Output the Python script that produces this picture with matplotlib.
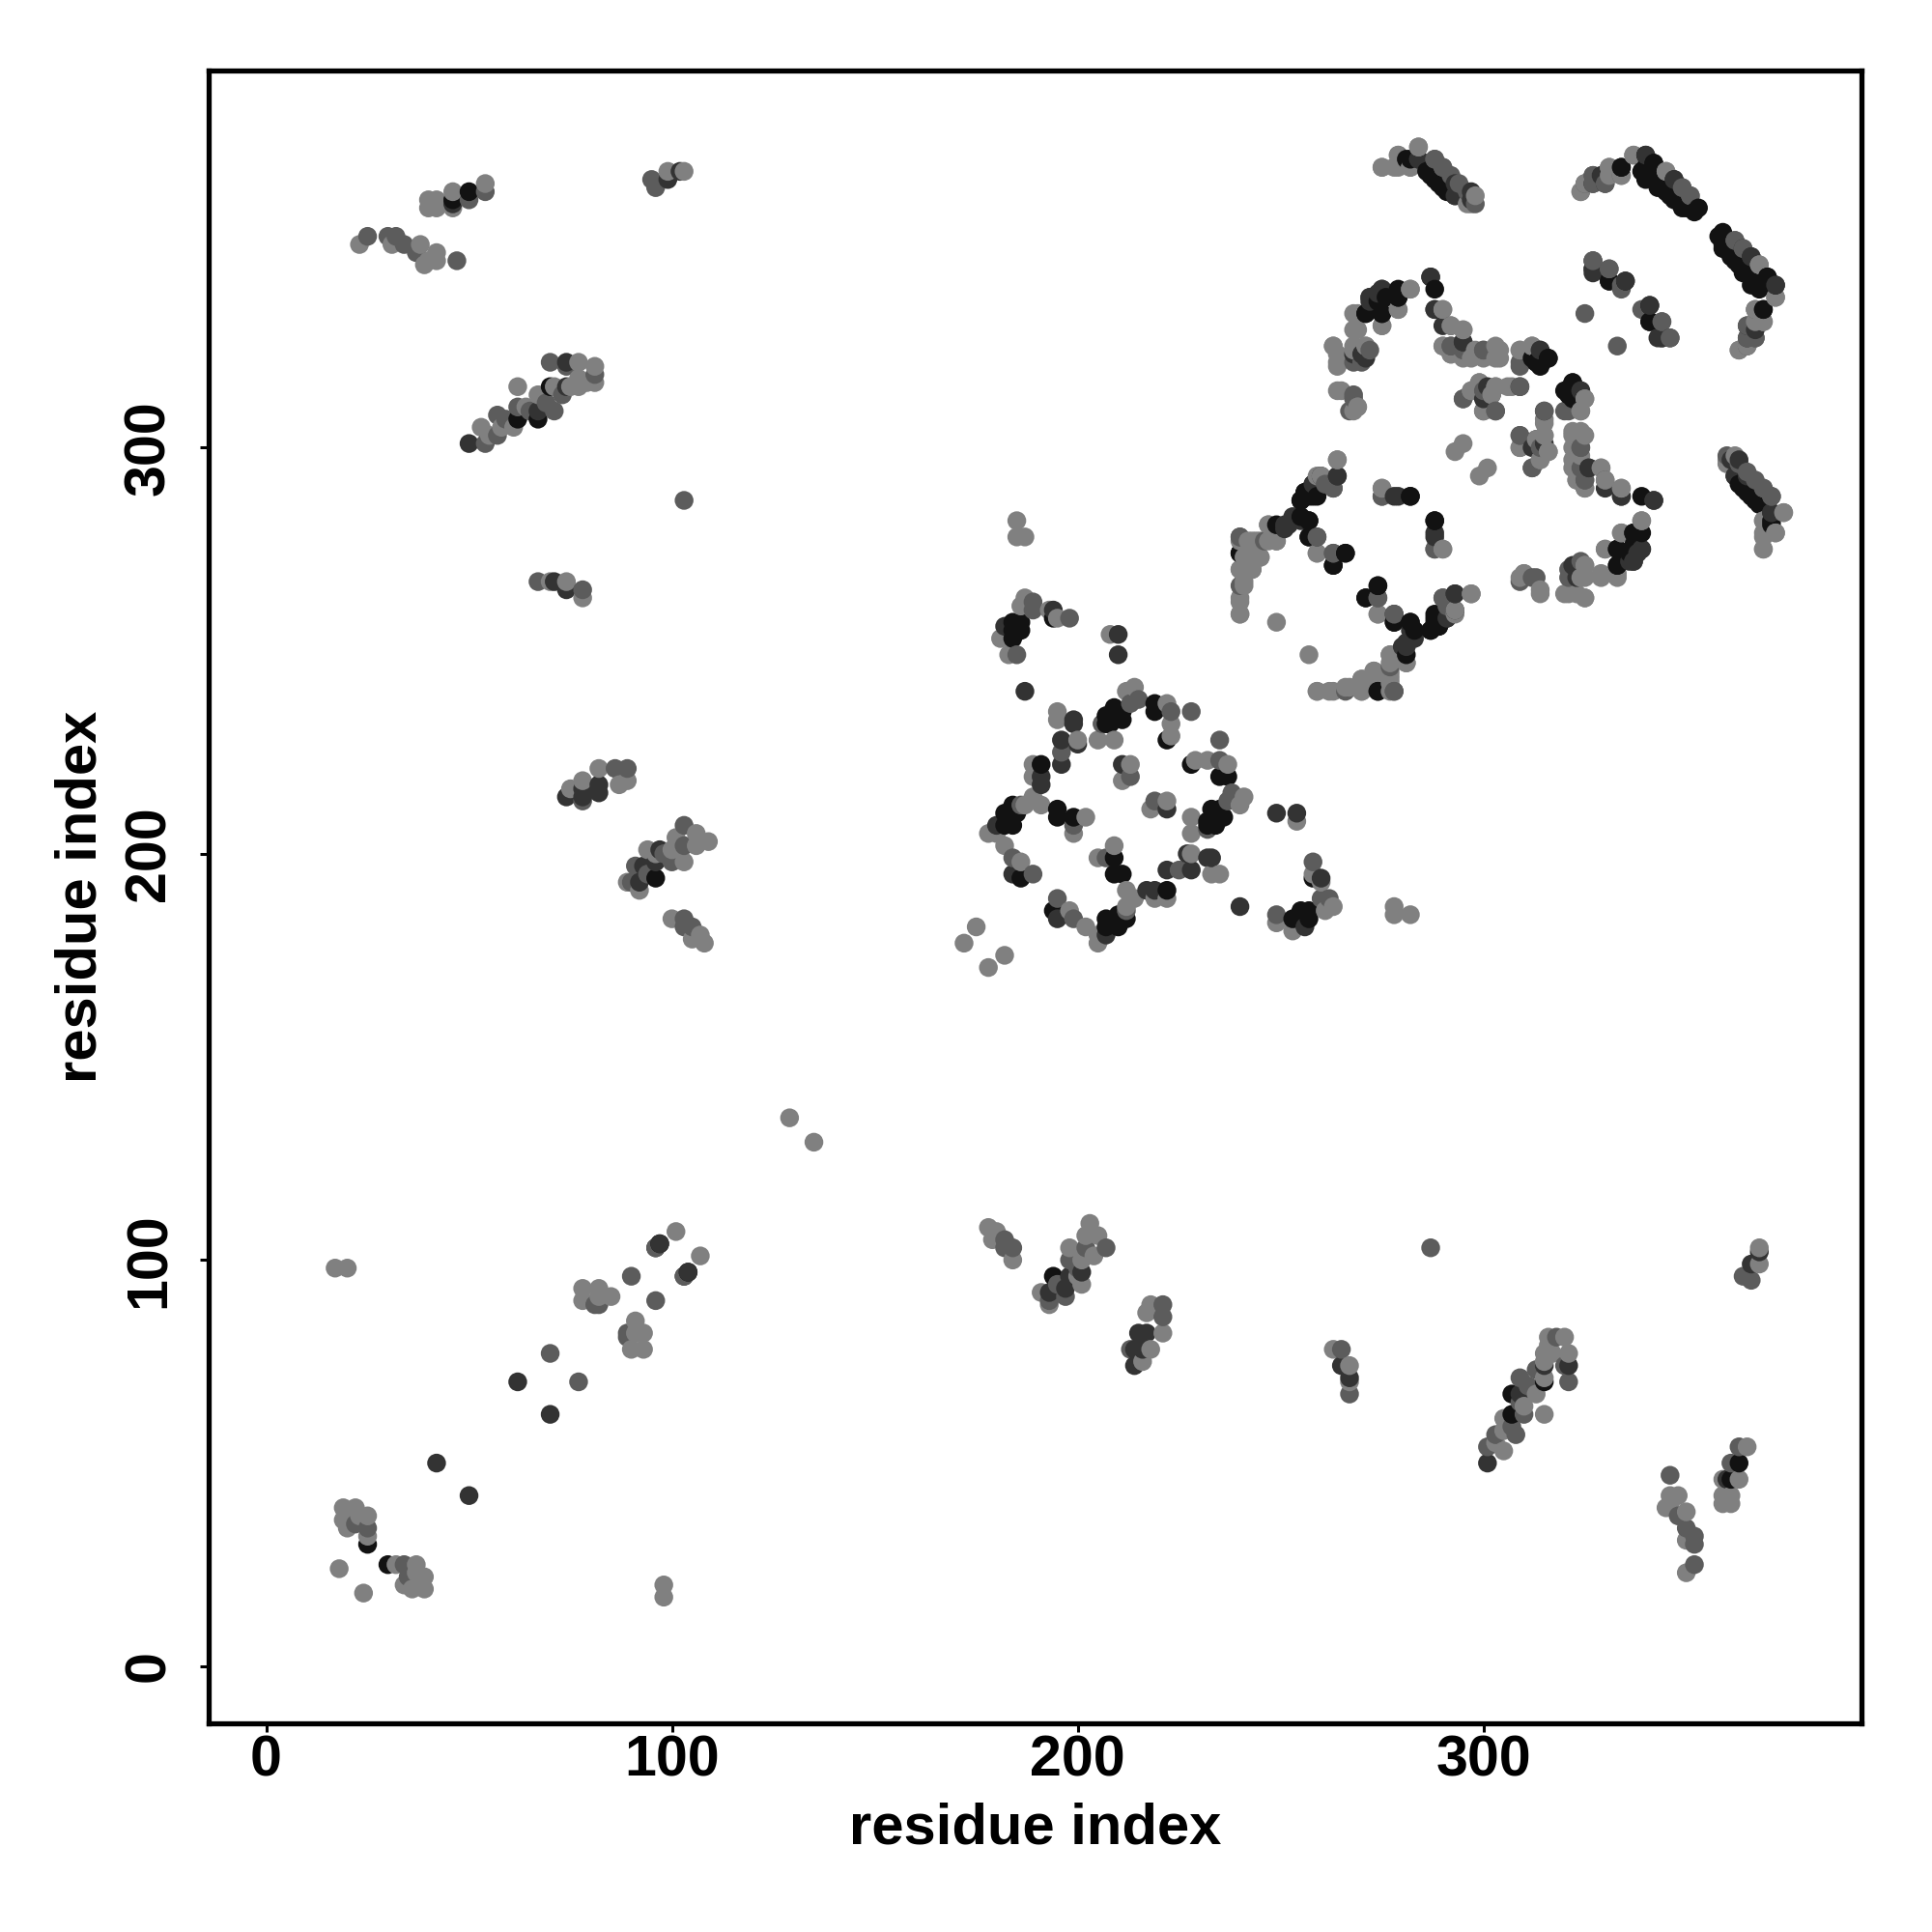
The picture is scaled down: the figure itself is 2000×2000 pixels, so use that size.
#!/usr/bin/env python3
"""Residue contact map, symmetric: each contact is listed once and drawn at (i, j) and (j, i)."""
import numpy as np
import matplotlib
matplotlib.use("Agg")
import matplotlib.pyplot as plt

plt.rcParams["font.family"] = ["Liberation Sans", "DejaVu Sans"]

# contacts, grouped by grey level
black = [(191,222),(184,212),(182,210),(182,207),(184,207),(185,210),(183,209),(195,211),(195,209),(199,209),(186,194),
         (207,232),(207,234),(209,236),(208,232),(211,233),(211,235),(209,234),(219,237),(219,235),(222,228),
         (258,194),(257,186),(255,184),(253,184),(257,184),(255,186),
         (258,291),(256,289),(255,287),(257,288),(259,288),(257,282),(249,281),(257,278),(266,274),(263,271),(240,274),
         (282,288),(288,282),(274,266),(271,263),(278,257),(282,257),(283,255),(274,240),(287,255),(289,258),(288,258),(289,256),
         (333,275),(333,271),(337,279),(336,274),(339,288),(322,316),(321,313),(322,314),(316,322),(313,321),(312,322),(314,320),
         (341,335),(341,331),(331,341),(282,371),(287,367),(289,365),(291,363),
         (334,369),(340,372),(340,369),(342,370),(341,367),(343,366),(345,363),(347,361),(350,359),(352,358),
         (359,353),(359,351),(359,349),(361,348),(362,346),(364,343),(370,342),(366,340),(368,339),(369,334),
         (271,333),(275,333),(276,337),(279,339),(279,337),(362,293),(364,290),(366,288),(368,286),(371,281),
         (62,307),(67,307),(70,315),(96,194),(97,104),(25,30),(50,363),(46,361)]
dark = [(187,240),(199,233),(199,232),(200,227),(196,228),(196,222),(191,219),(191,217),(180,207),(184,195),(211,222),
        (249,210),(254,210),(260,194),(256,182),
        (264,293),(253,283),(251,281),(255,282),(259,278),(279,288),(288,278),(281,252),(280,251),(293,264),(293,260),(291,258),
        (323,268),(323,270),(339,275),(337,272),(336,272),(338,274),(342,287),(334,288),(330,290),(326,295),(315,301),(312,300),
        (324,314),(314,324),(335,341),(327,343),(344,327),(346,327),(284,371),(293,362),(327,365),(330,365),(347,366),(364,349),
        (366,347),(372,340),(367,329),(327,344),(287,342),(288,334),(295,326),(272,337),(275,339),(271,322),(302,313),(309,315),
        (361,297),(363,297),(365,293),(371,284),(50,301),(99,366),(102,368),(67,309),(74,315),(74,321),
        (74,214),(78,214),(82,217),(82,215),(78,216),(92,193),(93,197),(96,198),(97,201),(62,70),(42,50),(104,97),(103,96),(74,265),(71,267),(46,360)]
mid = [(199,207),(186,212),(189,195),(184,199),(213,219),(206,232),(215,238),(213,237),(223,235),(228,235),(196,225),
       (258,198),(262,189),(260,189),(249,185),
       (240,278),(263,290),(261,291),(263,274),(275,288),(288,275),(274,263),(278,259),(278,240),(266,240),(277,246),(290,263),
       (321,270),(309,267),(313,268),(315,309),(325,292),(324,300),(309,320),(309,303),(312,295),(321,309),(300,309),(303,309),(300,314),(295,312),
       (292,330),(292,325),(295,324),(300,324),(325,333),(340,334),(344,331),(339,334),(327,346),(331,344),
       (288,371),(290,369),(292,367),(294,365),(296,363),(298,360),(325,365),(327,367),(349,364),(351,362),(362,351),(367,334),(365,330),(367,327),(365,327),
       (369,290),(371,288),(54,301),(57,303),(57,308),(62,310),(71,309),(70,321),(74,320),(81,318),
       (54,363),(50,361),(95,366),(96,364),(25,352),(32,352),(30,352),(37,348),(47,346),(34,350),
       (67,267),(90,96),(81,89),(89,82),(70,77),(96,103),(90,193),(91,197),(100,198),(103,202),(103,207),(103,184),(103,182),(105,182),
       (86,221),(89,221),(78,213),(268,321),(272,324),(268,312),(25,34),(22,35),(103,287),(78,265),
       (59,307),(65,309),(69,311),(73,313),(94,195),(98,200)]
grey = [(195,235),(195,233),(200,228),(189,222),(189,219),(189,214),(191,212),(187,212),(178,205),(182,202),(180,205),(186,198),(199,205),(202,209),
        (205,228),(209,228),(212,240),(214,241),(222,237),(223,232),(223,229),(213,222),(211,218),
        (254,208),(258,195),(260,193),(253,181),(249,183),(261,186),(263,187),
        (264,297),(260,293),(259,293),(247,281),(249,277),(247,277),(245,277),(243,277),(240,277),(241,273),(245,273),(243,273),(240,270),(243,270),(241,266),(240,263),(240,259),(249,257),(259,274),
        (275,290),(290,275),(274,259),(281,247),(277,249),(277,244),(277,242),(273,245),(270,243),(270,240),(273,242),(267,241),(262,240),(259,240),(297,264),
        (310,269),(314,264),(325,271),(325,268),(329,268),(333,268),(320,264),(323,264),(325,263),(330,275),(334,279),(339,282),
        (334,290),(330,292),(329,295),(325,290),(323,292),(322,297),(322,300),(322,303),(325,303),(315,306),(315,303),(309,300),(316,299),(314,297),(313,302),(325,312),(324,309),
        (312,325),(309,324),(304,324),(304,322),(298,324),(292,323),(295,322),(290,325),(290,334),(295,329),(299,316),(297,314),(303,315),(307,315),
        (275,369),(279,372),(279,369),(282,369),(284,374),(298,362),(296,360),(324,363),(331,369),(331,367),(334,367),(337,372),(345,368),
        (368,345),(372,337),(369,331),(363,324),(365,325),(369,282),(369,278),(372,279),(369,275),(374,284),(360,297),
        (275,330),(279,334),(282,339),(269,329),(271,325),(268,324),(269,333),(263,325),(264,321),(265,314),(268,309),(269,310),
        (293,299),(295,301),(40,361),(40,359),(42,361),(42,359),(46,359),(46,363),(54,365),(99,368),(103,368),
        (23,350),(31,350),(38,350),(42,348),(42,346),(40,346),(39,345),
        (53,305),(61,305),(62,315),(67,313),(71,315),(77,321),(77,317),(77,315),(81,320),(81,316),(70,267),(74,267),(78,263),
        (75,216),(78,218),(82,221),(87,217),(89,218),(89,193),(92,191),(94,201),(100,201),(103,198),(106,205),(106,202),(109,203),(100,184),(105,179),(108,178),(107,180),
        (17,98),(20,98),(19,39),(22,39),(25,37),(19,36),(20,34),(25,32),(18,24),(23,37),(21,38),
        (78,93),(78,90),(82,93),(82,91),(85,91),(101,107),(129,135),(172,178),(175,182),(185,282),(185,278),(187,278),
        (55,303),(58,305),(64,310),(75,315),(79,316),(96,200),(101,204)]

levels = [(black, 0.07), (dark, 0.2), (mid, 0.36), (grey, 0.5)]

xs, ys, gs = [], [], []
for contacts, g in levels:
    c = np.array(contacts)
    xs.append(np.r_[c[:, 0], c[:, 1]])
    ys.append(np.r_[c[:, 1], c[:, 0]])
    gs.append(np.full(2 * len(c), g))
xs, ys, gs = np.concatenate(xs), np.concatenate(ys), np.concatenate(gs)
# reference overplots in residue order: later x, then later y, lands on top
order = np.lexsort((ys, xs))

fig = plt.figure(figsize=(10, 10), dpi=200)
ax = fig.add_axes([0.10815, 0.10815, 0.8554, 0.8555])
ax.scatter(xs[order], ys[order], s=49, c=np.repeat(gs[order][:, None], 3, axis=1), linewidths=0, zorder=2)

ax.set_xlim(-14.1, 393.2)
ax.set_ylim(-14.0, 392.9)
ax.set_xticks([0, 100, 200, 300])
ax.set_yticks([0, 100, 200, 300])
ax.tick_params(axis="x", length=3.2, width=1.1, labelsize=21.3, pad=1)
ax.tick_params(axis="y", length=3.2, width=1.1, labelsize=21.3, pad=9)
for t in ax.get_xticklabels():
    t.set_fontweight("bold")
for t in ax.get_yticklabels():
    t.set_fontweight("bold")
    t.set_rotation(90)
    t.set_va("center")
for s in ax.spines.values():
    s.set_linewidth(1.9)
ax.set_xlabel("residue index", fontsize=21.5, fontweight="bold", labelpad=5.5)
ax.set_ylabel("residue index", fontsize=21.5, fontweight="bold", labelpad=5.6)
fig.savefig("out.png", dpi=200)
